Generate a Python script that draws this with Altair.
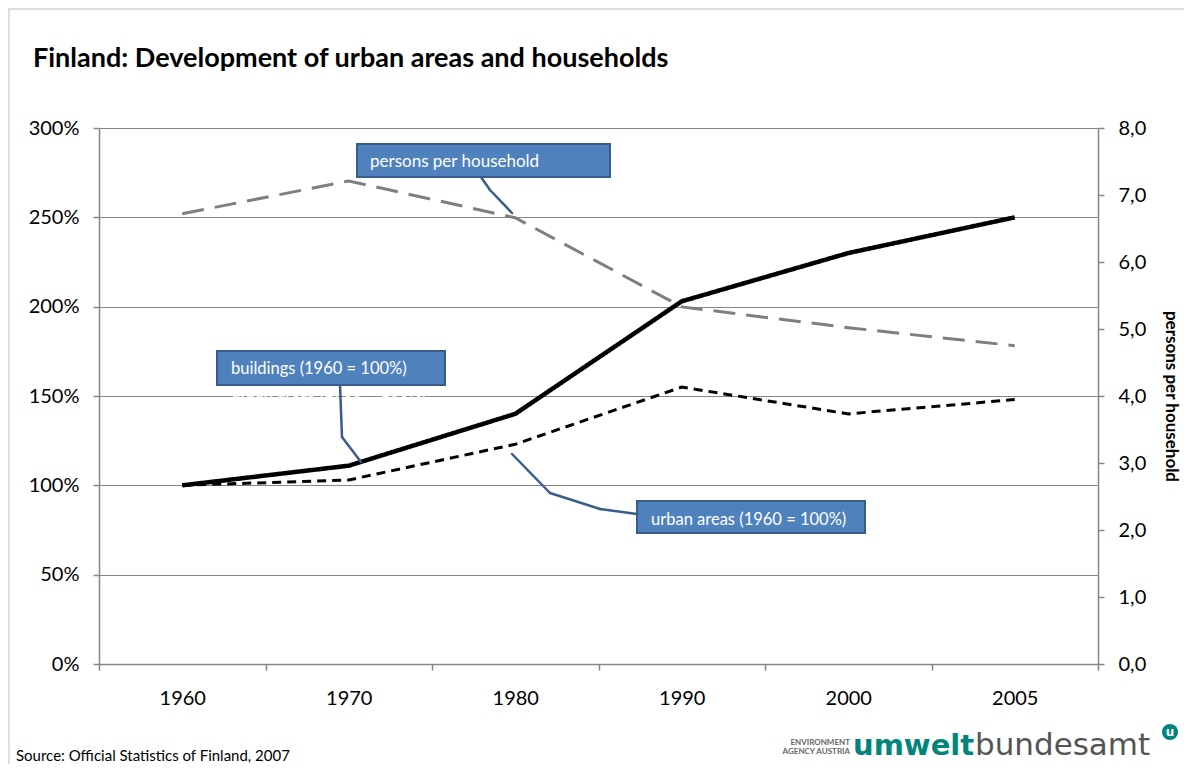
import altair as alt
import pandas as pd

# ---- data ----
years = ["1960", "1970", "1980", "1990", "2000", "2005"]
buildings = [1.00, 1.11, 1.40, 2.03, 2.30, 2.50]
urban_areas = [1.00, 1.03, 1.23, 1.55, 1.40, 1.48]
persons_per_household = [6.72, 7.21, 6.66, 5.33, 5.02, 4.75]
left_ticks = [0, 0.5, 1.0, 1.5, 2.0, 2.5, 3.0]
right_ticks = [0, 1, 2, 3, 4, 5, 6, 7, 8]
series_names = ["buildings", "urban areas"]

FONT = "Lato"
AX = "#868686"
BOX_FILL = "#4F81BD"
BOX_STROKE = "#385D8A"

df_left = pd.DataFrame({
    "year": years * 2,
    "value": buildings + urban_areas,
    "series": [series_names[0]] * len(years) + [series_names[1]] * len(years),
})
df_right = pd.DataFrame({"year": years, "value": persons_per_household})
one = pd.DataFrame({"k": [0]})

xenc = alt.X(
    "year:O",
    bandPosition=0.5,
    scale=alt.Scale(type="band", paddingInner=0, paddingOuter=0, domain=years),
    axis=alt.Axis(title=None, labelAngle=0, tickBand="extent", domainColor=AX,
                  tickColor=AX, tickSize=6, domainWidth=1.5, tickWidth=1.5,
                  labelFontSize=20, labelPadding=18, labelColor="black",
                  labelFont=FONT, grid=False),
)

left = alt.Chart(df_left).mark_line(color="black").encode(
    x=xenc,
    y=alt.Y("value:Q", scale=alt.Scale(domain=[0, 3], nice=False),
            axis=alt.Axis(values=left_ticks, format=".0%", title=None, grid=True,
                          gridColor=AX, gridWidth=1, domainColor=AX, domainWidth=1.5,
                          tickColor=AX, tickWidth=1.5, tickSize=6, labelFontSize=20,
                          labelPadding=14, labelColor="black", labelFont=FONT)),
    strokeDash=alt.StrokeDash("series:N", scale=alt.Scale(domain=series_names, range=[[1, 0], [9, 6]]), legend=None),
    strokeWidth=alt.StrokeWidth("series:N", scale=alt.Scale(domain=series_names, range=[4.5, 3]), legend=None),
)

right = alt.Chart(df_right).mark_line(color="#7f7f7f", strokeWidth=3, strokeDash=[22, 11]).encode(
    x=xenc,
    y=alt.Y("value:Q", scale=alt.Scale(domain=[0, 8], nice=False),
            axis=alt.Axis(orient="right", values=right_ticks,
                          labelExpr="replace(format(datum.value, '.1f'), '.', ',')",
                          title="persons per household", titleFont=FONT, titleFontSize=17,
                          titleFontWeight="bold", titleColor="black", titlePadding=16,
                          grid=False, domainColor=AX, domainWidth=1.5, tickColor=AX,
                          tickWidth=1.5, tickSize=6, labelFontSize=20, labelPadding=14,
                          labelColor="black", labelFont=FONT)),
)


def text(t, x, y, size, color="black", weight="normal", align="left", font=FONT):
    return alt.Chart(one).mark_text(text=t, align=align, baseline="alphabetic", font=font,
                                    fontSize=size, color=color, fontWeight=weight).encode(
        x=alt.value(x), y=alt.value(y))


def rule(x1, y1, x2, y2, color, width):
    return alt.Chart(one).mark_rule(color=color, strokeWidth=width, strokeCap="round").encode(
        x=alt.value(x1), y=alt.value(y1), x2=alt.value(x2), y2=alt.value(y2))


def box(x1, y1, x2, y2):
    return alt.Chart(one).mark_rect(fill=BOX_FILL, stroke=BOX_STROKE, strokeWidth=2).encode(
        x=alt.value(x1), x2=alt.value(x2), y=alt.value(y1), y2=alt.value(y2))


def leader(points):
    return [rule(points[i][0], points[i][1], points[i + 1][0], points[i + 1][1], BOX_STROKE, 2.5)
            for i in range(len(points) - 1)]


annots = []
# outer frame (top and left edges visible)
annots.append(rule(-90, -119, 1090, -119, "#d4d4d4", 1.5))
annots.append(rule(-90, -119, -90, 640, "#d4d4d4", 1.5))
# title
annots.append(text("Finland: Development of urban areas and households", -66, -61, 27, weight="bold"))
# ghost label under the buildings box
annots.append(text("urban areas (1960 = 100%)", 132, 269, 16.5, color="white"))
# leaders
annots += leader([(382, 49), (391, 62), (413, 85)])
annots += leader([(241, 257), (243, 309), (262, 334)])
annots += leader([(413, 326), (451, 365), (501, 381), (538, 386)])
# boxes
annots.append(box(258, 16, 511, 49))
annots.append(box(118, 223, 346, 257))
annots.append(box(538, 373, 766, 405))
annots.append(text("persons per household", 271, 39, 17, color="white"))
annots.append(text("buildings (1960 = 100%)", 132, 246, 16.5, color="white"))
annots.append(text("urban areas (1960 = 100%)", 552, 397, 16.5, color="white"))
# source
annots.append(text("Source: Official Statistics of Finland, 2007", -83, 633, 15))
# logo
annots.append(text("ENVIRONMENT", 751, 617, 8, color="#666666", weight="bold", align="right"))
annots.append(text("AGENCY AUSTRIA", 751, 626, 8, color="#666666", weight="bold", align="right"))
annots.append(text("umwelt", 754, 627, 29, color="#00857C", weight="bold", font="DejaVu Sans"))
annots.append(text("bundesamt", 876, 627, 31, color="#555555", font="DejaVu Sans"))
annots.append(alt.Chart(one).mark_point(shape="circle", filled=True, color="#00857C", size=260, opacity=1).encode(
    x=alt.value(1071), y=alt.value(604)))
annots.append(text("u", 1071, 608, 12, color="white", weight="bold", align="center", font="DejaVu Sans"))

chart = alt.layer(left, right, *annots).resolve_scale(y="independent").properties(
    width=999, height=536,
    autosize=alt.AutoSizeParams(type="none"),
    padding={"left": 91, "top": 120, "right": 86, "bottom": 100},
).configure_view(stroke=None)

chart.save("out.html", embed_options={"renderer": "svg", "actions": False})
